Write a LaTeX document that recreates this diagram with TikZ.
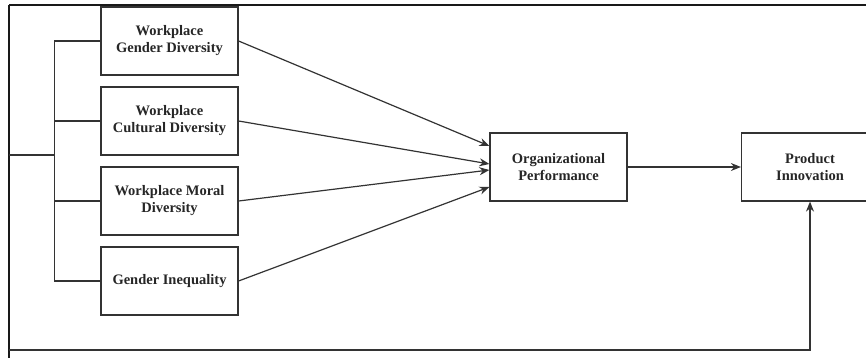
\documentclass[tikz,border=0pt]{standalone}
\usepackage{fontspec}
\setmainfont{Liberation Serif}
\usetikzlibrary{arrows.meta}
\begin{document}
\begin{tikzpicture}[x=1pt,y=-1pt,
  box/.style={draw=black!80, line width=1.2pt, minimum width=137pt, minimum height=68pt,
    align=center, font=\fontsize{14.5}{17}\selectfont\bfseries, inner sep=2pt, text=black!85},
  conn/.style={line width=1.2pt, draw=black!80},
  arr/.style={conn, -{Stealth[length=10pt,width=8pt]}},
  frame/.style={line width=2.4pt, draw=black!90}]
\useasboundingbox (0,0) rectangle (866,358);
\clip (0,0) rectangle (866,358);
\fill[white] (0,0) rectangle (866,358);
% boxes
\node[box] (b1) at (169.5,41) {Workplace\\Gender Diversity};
\node[box] (b2) at (169.5,121) {Workplace\\Cultural Diversity};
\node[box] (b3) at (169.5,201) {Workplace Moral\\Diversity};
\node[box] (b4) at (169.5,281) {Gender Inequality};
\node[box] (op) at (558.5,167) {Organizational\\Performance};
\node[box] (pi) at (810,167) {Product\\Innovation};
% frame lines
\coordinate (tl) at (9,5);
\coordinate (tr) at (866,5);
\coordinate (bl) at (9,358);
\draw[frame] (tl) -- (tr);
\draw[frame] (tl) -- (bl);
% bracket
\coordinate (lx) at (9,155);
\coordinate (bx) at (55,155);
\draw[conn] (lx) -- (bx);
\draw[conn] (b1.west) -- ++(-46,0) |- (b4.west);
\draw[conn] (b2.west) -- ++(-46,0);
\draw[conn] (b3.west) -- ++(-46,0);
% arrows to organizational performance
\draw[arr] (b1.east) -- ([yshift=21pt]op.west);
\draw[arr] (b2.east) -- ([yshift=3pt]op.west);
\draw[arr] (b3.east) -- ([yshift=-3pt]op.west);
\draw[arr] (b4.east) -- ([yshift=-20pt]op.west);
\draw[arr] (op.east) -- (pi.west);
% feedback
\coordinate (fb) at (9,350);
\draw[arr] (fb) -| (pi.south);
\end{tikzpicture}
\end{document}
